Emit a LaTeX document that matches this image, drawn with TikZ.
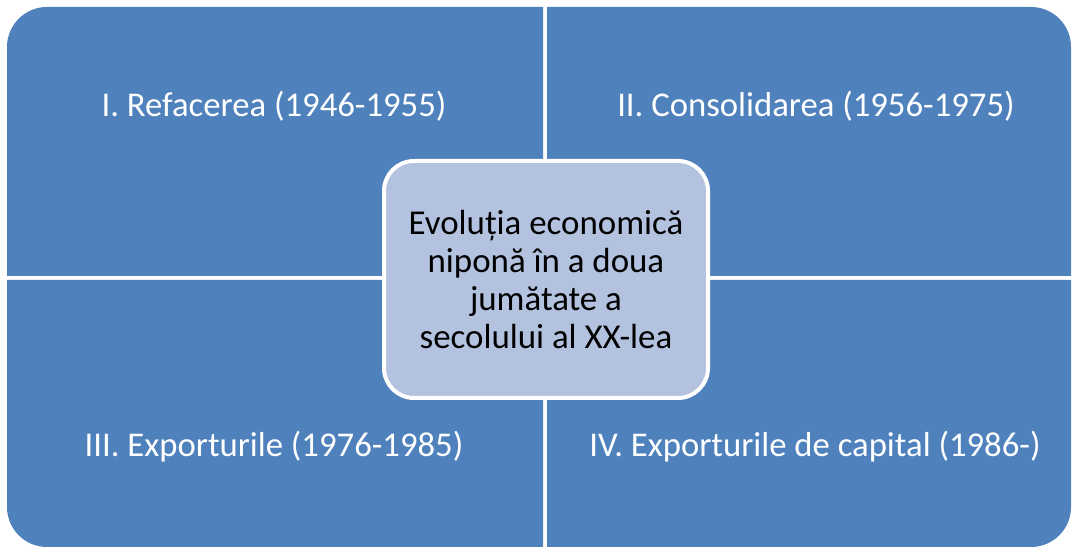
\documentclass[tikz,border=0pt]{standalone}
\usepackage{fontspec}
\setmainfont{Carlito}
\definecolor{quadblue}{HTML}{4F81BD}
\definecolor{centerfill}{HTML}{B2C2DF}
\begin{document}
\begin{tikzpicture}[x=1pt,y=1pt,
  quad/.style={fill=quadblue, draw=none},
  lab/.style={text=white, anchor=base, inner sep=0pt, font=\fontsize{34.7}{37.7}\selectfont},
  centerbox/.style={draw=white, line width=4pt, fill=centerfill, rounded corners=30pt,
    minimum width=324pt, minimum height=237pt, align=center, text=black, inner sep=0pt,
    font=\fontsize{34.9}{37.8}\selectfont}]
\fill[white] (0,0) rectangle (1072,548);
\useasboundingbox (0,0) rectangle (1072,548);
% quadrants
\path[quad] (543,272) -- (7,272) -- (7,501) arc[start angle=180, end angle=90, radius=40] -- (543,541) -- cycle;
\path[quad] (547,272) -- (547,541) -- (1031,541) arc[start angle=90, end angle=0, radius=40] -- (1071,272) -- cycle;
\path[quad] (543,268) -- (7,268) -- (7,41) arc[start angle=180, end angle=270, radius=40] -- (543,1) -- cycle;
\path[quad] (547,268) -- (1071,268) -- (1071,41) arc[start angle=0, end angle=-90, radius=40] -- (547,1) -- cycle;
% labels
\node[lab] (q1) at (274,431) {I. Refacerea (1946-1955)};
\node[lab] (q2) at (816,431) {II. Consolidarea (1956-1975)};
\node[lab] (q3) at (274,91) {III. Exporturile (1976-1985)};
\node[lab] (q4) at (815,91) {IV. Exporturile de capital (1986-)};
% center
\node[centerbox] (center) at (546,268.5) {Evoluția economică\\nipon\u{a} în a doua\\jumătate a\\secolului al XX-lea};
\end{tikzpicture}
\end{document}
